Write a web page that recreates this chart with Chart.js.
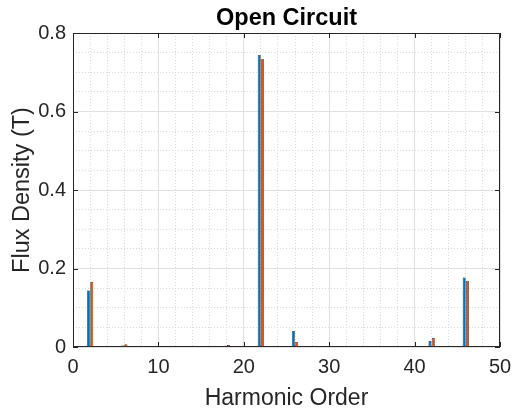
<!DOCTYPE html>
<html>
<head>
<meta charset="utf-8">
<script src="https://cdn.jsdelivr.net/npm/chart.js@4/dist/chart.umd.min.js"></script>
<style>
  html, body { margin: 0; padding: 0; background: #fff; }
</style>
</head>
<body>
<canvas id="fluxChart" width="512" height="412"></canvas>
<script>
// harmonic orders 1..49 (zero bars show as small dashes on the baseline)
const harmonics = [];
for (let h = 1; h <= 49; h++) harmonics.push(h);

// flux density per harmonic (index 0 -> harmonic 1)
const seriesBlue = [
  0, 0.144, 0, 0, 0, 0.004, 0, 0, 0, 0,
  0, 0, 0, 0, 0, 0, 0, 0.003, 0, 0,
  0, 0.744, 0, 0, 0, 0.041, 0, 0, 0, 0,
  0, 0, 0, 0, 0, 0, 0, 0, 0, 0,
  0, 0.015, 0, 0, 0, 0.177, 0, 0, 0
];
const seriesOrange = [
  0, 0.166, 0, 0, 0, 0.007, 0, 0, 0, 0,
  0, 0, 0, 0, 0, 0, 0, 0.005, 0, 0,
  0, 0.733, 0, 0, 0, 0.013, 0, 0, 0, 0,
  0, 0, 0, 0, 0, 0, 0, 0, 0, 0,
  0, 0.023, 0, 0, 0, 0.169, 0, 0, 0
];

const xTickLabels = [0, 10, 20, 30, 40, 50];
const yTickLabels = [0, 0.2, 0.4, 0.6, 0.8];
const chartTitle = 'Open Circuit';
const xTitle = 'Harmonic Order';
const yTitle = 'Flux Density (T)';

const fontFam = '"Liberation Sans", Arial, Helvetica, sans-serif';
const axisColor = '#262626';

function isMajorX(v) { return Math.round(v) % 10 === 0; }
function isMajorY(v) { return Math.round(v * 100) % 20 === 0; }

// box, inward ticks and title centred over the axes (MATLAB look)
const axesBox = {
  id: 'axesBox',
  beforeDatasetsDraw(chart) {
    const { ctx, chartArea: a, scales: { x, y } } = chart;
    ctx.save();
    ctx.strokeStyle = axisColor;
    ctx.lineWidth = 1;
    ctx.strokeRect(a.left + 0.5, a.top + 0.5, a.right - a.left - 1, a.bottom - a.top - 1);
    ctx.beginPath();
    xTickLabels.forEach(v => {
      const px = Math.round(x.getPixelForValue(v)) + 0.5;
      ctx.moveTo(px, a.bottom); ctx.lineTo(px, a.bottom - 5);
      ctx.moveTo(px, a.top); ctx.lineTo(px, a.top + 5);
    });
    yTickLabels.forEach(v => {
      const py = Math.round(y.getPixelForValue(v)) + 0.5;
      ctx.moveTo(a.left, py); ctx.lineTo(a.left + 5, py);
      ctx.moveTo(a.right, py); ctx.lineTo(a.right - 5, py);
    });
    ctx.stroke();
    ctx.restore();
  },
  afterDraw(chart) {
    const { ctx, chartArea: a } = chart;
    ctx.save();
    ctx.fillStyle = '#000';
    ctx.font = 'bold 23.5px ' + fontFam;
    ctx.textAlign = 'center';
    ctx.textBaseline = 'alphabetic';
    ctx.fillText(chartTitle, (a.left + a.right) / 2, 25);
    ctx.restore();
  }
};

new Chart(document.getElementById('fluxChart'), {
  type: 'bar',
  data: {
    datasets: [
      {
        label: 'A',
        data: harmonics.map((h, i) => ({ x: h, y: seriesBlue[i] })),
        backgroundColor: '#0072BD',
        borderColor: '#1a1a1a',
        borderWidth: 0.6,
        minBarLength: 1
      },
      {
        label: 'B',
        data: harmonics.map((h, i) => ({ x: h, y: seriesOrange[i] })),
        backgroundColor: '#D95319',
        borderColor: '#1a1a1a',
        borderWidth: 0.6,
        minBarLength: 1
      }
    ]
  },
  options: {
    responsive: false,
    animation: false,
    layout: { padding: { top: 33, right: 12, left: 0, bottom: 0 } },
    datasets: { bar: { categoryPercentage: 0.78, barPercentage: 0.9 } },
    plugins: {
      legend: { display: false },
      title: { display: false },
      tooltip: { enabled: false }
    },
    scales: {
      x: {
        type: 'linear',
        min: 0,
        max: 50,
        offset: false,
        afterFit: s => { s.height = 65; s.paddingLeft = 0; s.paddingRight = 0; },
        ticks: {
          stepSize: 2,
          autoSkip: false,
          maxRotation: 0,
          padding: 8,
          color: axisColor,
          font: { family: fontFam, size: 20 },
          callback: v => isMajorX(v) ? String(v) : ''
        },
        grid: {
          offset: false,
          drawTicks: false,
          lineWidth: 1,
          color: c => isMajorX(c.tick.value) ? '#e0e0e0' : '#d9d9d9'
        },
        border: {
          display: false,
          dash: c => (c.tick && !isMajorX(c.tick.value)) ? [1, 2] : []
        },
        title: {
          display: true,
          text: xTitle,
          color: axisColor,
          font: { family: fontFam, size: 23 },
          padding: { top: 0, bottom: 0 }
        }
      },
      y: {
        min: 0,
        max: 0.8,
        afterFit: s => { s.width = 73; s.paddingTop = 0; s.paddingBottom = 0; },
        ticks: {
          stepSize: 0.05,
          autoSkip: false,
          padding: 7,
          color: axisColor,
          font: { family: fontFam, size: 20 },
          callback: v => isMajorY(v) ? String(Math.round(v * 10) / 10) : ''
        },
        grid: {
          drawTicks: false,
          lineWidth: 1,
          color: c => isMajorY(c.tick.value) ? '#e0e0e0' : '#d9d9d9'
        },
        border: {
          display: false,
          dash: c => (c.tick && !isMajorY(c.tick.value)) ? [1, 2] : []
        },
        title: {
          display: true,
          text: yTitle,
          color: axisColor,
          font: { family: fontFam, size: 23.5 },
          padding: { top: 8, bottom: 0 }
        }
      }
    }
  },
  plugins: [axesBox]
});
</script>
</body>
</html>
